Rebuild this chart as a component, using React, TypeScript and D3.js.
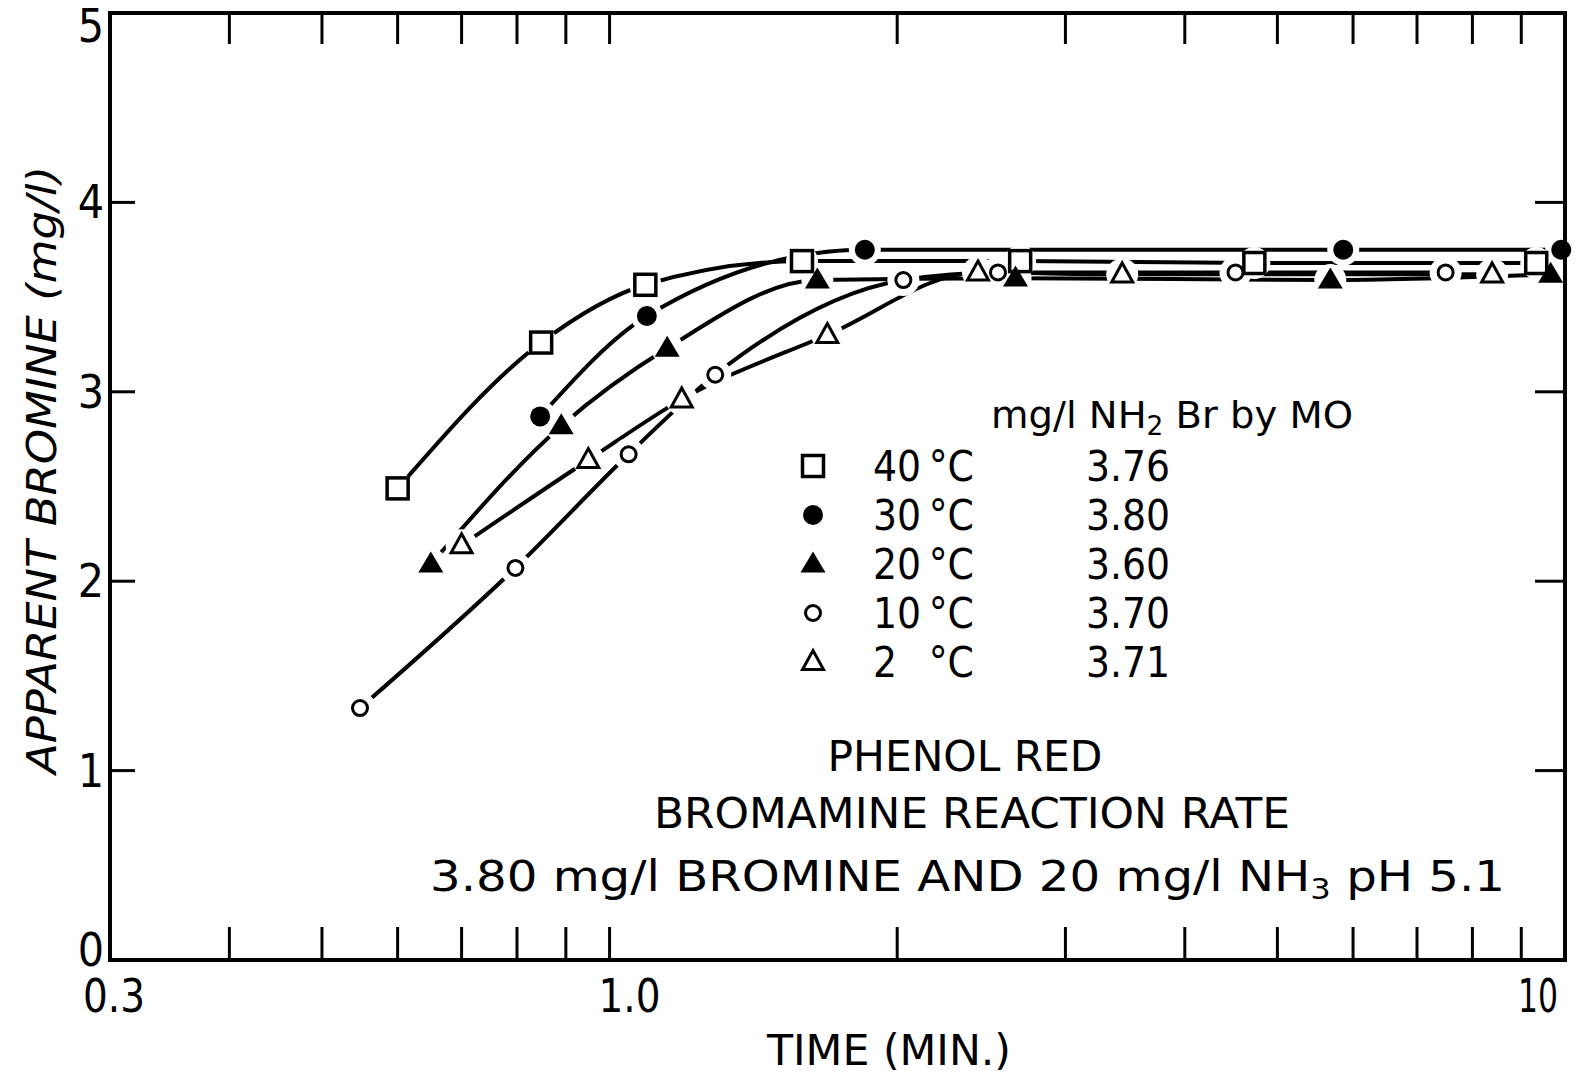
import React from "react";
import * as d3 from "d3";

// ---- axis ticks ----
const xMinorTicks = [0.4, 0.5, 0.6, 0.7, 0.8, 0.9, 1.0, 2, 3, 4, 5, 6, 7, 8, 9];
const xLabelValues = [0.3, 1.0, 10];
const xLabelTexts = ["0.3", "1.0", "10"];
const yTickValues = [1, 2, 3, 4];
const yLabelValues = [0, 1, 2, 3, 4, 5];

// ---- series (time in min, apparent bromine mg/l) ----
const t40 = [0.6, 0.848, 1.09, 1.59, 2.69, 4.73, 9.33];
const v40 = [2.49, 3.26, 3.565, 3.69, 3.69, 3.68, 3.68];

const t30 = [0.846, 1.094, 1.85, 5.86, 9.91];
const v30 = [2.87, 3.40, 3.75, 3.75, 3.75];

const t20 = [0.65, 0.89, 1.149, 1.65, 2.66, 5.68, 9.66];
const v20 = [2.09, 2.82, 3.23, 3.59, 3.60, 3.59, 3.62];

const t10 = [0.548, 0.797, 1.047, 1.29, 2.03, 2.55, 4.52, 7.5];
const v10 = [1.33, 2.07, 2.67, 3.09, 3.59, 3.63, 3.63, 3.63];

const t2 = [0.70, 0.95, 1.19, 1.69, 2.43, 3.44, 8.39];
const v2 = [2.19, 2.64, 2.96, 3.30, 3.63, 3.62, 3.62];

const legendTemps = ["40", "30", "20", "10", "2"];
const legendValues = ["3.76", "3.80", "3.60", "3.70", "3.71"];
const markerKinds = ["square", "dot", "tri", "circle", "otri"];

const series = [
  { t: t40, v: v40, kind: "square" },
  { t: t30, v: v30, kind: "dot" },
  { t: t20, v: v20, kind: "tri" },
  { t: t10, v: v10, kind: "circle" },
  { t: t2, v: v2, kind: "otri" },
];

const FONT = "'DejaVu Sans Condensed', 'Liberation Sans Narrow', 'DejaVu Sans', sans-serif";

function Marker({ kind, x, y }: { kind: string; x: number; y: number }) {
  const k = "#000";
  if (kind === "square")
    return <rect x={x - 10.5} y={y - 10.5} width={21} height={21} fill="#fff" stroke={k} strokeWidth={3.5} />;
  if (kind === "dot") return <circle cx={x} cy={y} r={10} fill={k} />;
  if (kind === "circle") return <circle cx={x} cy={y} r={7.5} fill="#fff" stroke={k} strokeWidth={3} />;
  const h = kind === "tri" ? 21 : 19;
  const w = kind === "tri" ? 25 : 21;
  const pts = [
    [x, y - h * 0.6],
    [x + w / 2, y + h * 0.4],
    [x - w / 2, y + h * 0.4],
  ]
    .map((p) => p.join(","))
    .join(" ");
  if (kind === "tri") return <polygon points={pts} fill={k} />;
  return <polygon points={pts} fill="#fff" stroke={k} strokeWidth={3} strokeLinejoin="miter" />;
}

export default function App() {
  const W = 1577;
  const H = 1078;
  const x = d3.scaleLog().domain([0.3, 10]).range([110, 1565]);
  const y = d3.scaleLinear().domain([0, 5]).range([960, 13]);

  const line = d3
    .line<[number, number]>()
    .x((d) => x(d[0]))
    .y((d) => y(d[1]))
    .curve(d3.curveMonotoneX);

  const paths = series.map((s) => line(s.t.map((t, i) => [t, s.v[i]] as [number, number])) || "");
  const points = series.flatMap((s) => s.t.map((t, i) => ({ kind: s.kind, px: x(t), py: y(s.v[i]) })));

  const [x0, x1] = x.range();
  const [y0, y1] = y.range();

  return (
    <svg
      width={W}
      height={H}
      style={{ display: "block", position: "absolute", left: 0, top: 0 }}
      fontFamily={FONT}
      fontStretch="condensed"
    >
      <rect width={W} height={H} fill="#fff" />
      {/* curves */}
      <g fill="none" stroke="#000" strokeWidth={4} strokeLinecap="round">
        {paths.map((d, i) => (
          <path key={i} d={d} />
        ))}
      </g>
      {/* gaps around markers */}
      <g fill="#fff">
        {points.map((p, i) => (
          <circle key={i} cx={p.px} cy={p.py} r={16} />
        ))}
      </g>
      {points.map((p, i) => (
        <Marker key={i} kind={p.kind} x={p.px} y={p.py} />
      ))}

      {/* frame */}
      <rect x={x0} y={y1} width={x1 - x0} height={y0 - y1} fill="none" stroke="#000" strokeWidth={4} />
      {/* ticks */}
      <g stroke="#000" strokeWidth={3}>
        {xMinorTicks.map((t) => (
          <g key={t}>
            <line x1={x(t)} x2={x(t)} y1={y0} y2={y0 - 33} />
            <line x1={x(t)} x2={x(t)} y1={y1} y2={y1 + 31} />
          </g>
        ))}
        {yTickValues.map((v) => (
          <g key={v}>
            <line x1={x0} x2={x0 + 25} y1={y(v)} y2={y(v)} />
            <line x1={x1} x2={x1 - 30} y1={y(v)} y2={y(v)} />
          </g>
        ))}
      </g>
      {/* tick labels */}
      <g fontSize={46} fill="#000">
        {yLabelValues.map((v) => (
          <text key={v} x={104} y={v === 5 ? 42 : v === 0 ? y(v) + 6 : y(v) + 16} textAnchor="end">
            {String(v)}
          </text>
        ))}
        {xLabelValues.map((v, i) => (
          <text
            key={v}
            x={i === 0 ? x(v) + 4 : i === 2 ? x(v) - 27 : x(v) + 20}
            y={1012}
            textAnchor="middle"
            textLength={i === 2 ? 40 : 62}
            lengthAdjust="spacingAndGlyphs"
          >
            {xLabelTexts[i]}
          </text>
        ))}
      </g>
      {/* axis titles */}
      <text x={889} y={1065} fontSize={42} textAnchor="middle" textLength={244} lengthAdjust="spacingAndGlyphs">
        TIME (MIN.)
      </text>
      <text
        transform={`translate(56,470) rotate(-90)`}
        fontSize={40}
        fontStyle="italic"
        textAnchor="middle"
        textLength={608}
        lengthAdjust="spacingAndGlyphs"
      >
        APPARENT BROMINE (mg/l)
      </text>

      {/* legend */}
      <text x={991} y={428} fontSize={38} textLength={362} lengthAdjust="spacingAndGlyphs">
        mg/l NH
        <tspan fontSize={26} dy={7}>2</tspan>
        <tspan dy={-7}> Br by MO</tspan>
      </text>
      {legendTemps.map((tp, i) => {
        const cy = 466 + i * 49;
        return (
          <g key={tp}>
            <Marker kind={markerKinds[i]} x={813} y={cy} />
            <text x={873} y={cy + 15} fontSize={42}>
              {tp}
            </text>
            <text x={974} y={cy + 15} fontSize={42} textAnchor="end">
              °C
            </text>
            <text x={1086} y={cy + 15} fontSize={42}>
              {legendValues[i]}
            </text>
          </g>
        );
      })}

      {/* annotation */}
      <text x={965} y={771} fontSize={42} textAnchor="middle" textLength={275} lengthAdjust="spacingAndGlyphs">
        PHENOL RED
      </text>
      <text x={972} y={828} fontSize={42} textAnchor="middle" textLength={636} lengthAdjust="spacingAndGlyphs">
        BROMAMINE REACTION RATE
      </text>
      <text x={430} y={891} fontSize={42} textLength={1075} lengthAdjust="spacingAndGlyphs">
        3.80 mg/l BROMINE AND 20 mg/l NH
        <tspan fontSize={28} dy={8}>3</tspan>
        <tspan dy={-8}>{"  pH 5.1"}</tspan>
      </text>
    </svg>
  );
}
